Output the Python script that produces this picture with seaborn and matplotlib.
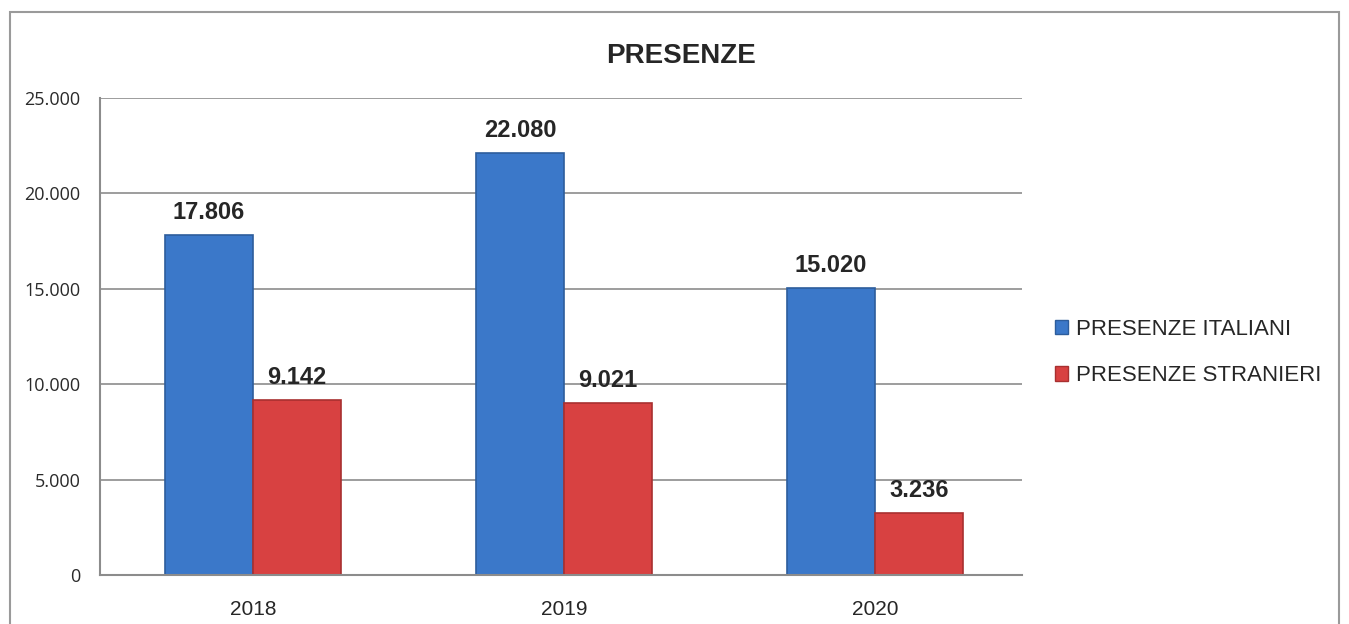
import matplotlib
matplotlib.use('Agg')
import matplotlib.pyplot as plt
import seaborn as sns
import pandas as pd
from matplotlib.patches import Rectangle

# dati
anni = ['2018', '2019', '2020']
italiani = [17806, 22080, 15020]
stranieri = [9142, 9021, 3236]
serie = ['PRESENZE ITALIANI', 'PRESENZE STRANIERI']
y_ticks = [0, 5000, 10000, 15000, 20000, 25000]

df = pd.DataFrame({
    'anno': anni * 2,
    'valore': italiani + stranieri,
    'serie': [serie[0]] * 3 + [serie[1]] * 3,
})

sns.set_theme(style='white')
plt.rcParams['font.family'] = ['Liberation Sans', 'DejaVu Sans']

fmt = lambda v: f'{int(v):,}'.replace(',', '.')

fig = plt.figure(figsize=(13.49, 6.24), dpi=100)
ax = fig.add_axes([0.0741, 0.0785, 0.6835, 0.765])

colori = {serie[0]: '#3b78c9', serie[1]: '#d84141'}
bordi = {serie[0]: '#2d5d9c', serie[1]: '#a83030'}
sns.barplot(data=df, x='anno', y='valore', hue='serie', palette=colori,
            width=0.566, ax=ax, legend=False, saturation=1)

for cont, s in zip(ax.containers, serie):
    for bar in cont:
        bar.set_edgecolor(bordi[s])
        bar.set_linewidth(1.2)
    ax.bar_label(cont, labels=[fmt(b.get_height()) for b in cont], padding=8,
                 fontsize=17, fontweight='bold')

ax.set_xlim(-0.492, 2.473)
ax.set_ylim(0, 25000)
ax.set_yticks(y_ticks)
ax.set_yticklabels([fmt(v) for v in y_ticks], fontsize=13,
                   family=['Open Sans', 'DejaVu Sans'], color='#2a2a2a')
ax.set_xticks(range(len(anni)))
ax.set_xticklabels(anni, fontsize=15)
ax.tick_params(axis='y', pad=14, length=0)
ax.tick_params(axis='x', pad=18, length=0)
ax.set_xlabel('')
ax.set_ylabel('')
ax.yaxis.grid(True, color='#8c8c8c', linewidth=1.2)
ax.set_axisbelow(True)
for sp in ['top', 'right']:
    ax.spines[sp].set_visible(False)
for sp in ['left', 'bottom']:
    ax.spines[sp].set_color('#8c8c8c')
    ax.spines[sp].set_linewidth(1.5)

# legenda
handles = [Rectangle((0, 0), 1, 1, facecolor=colori[s], edgecolor=bordi[s]) for s in serie]
fig.legend(handles, serie, loc='center left', bbox_to_anchor=(0.767, 0.435),
           frameon=False, fontsize=16, handlelength=0.6, handleheight=0.6,
           handletextpad=0.35, labelspacing=1.15)

fig.text(0.505, 0.91, 'PRESENZE', ha='center', va='center', fontsize=20,
         fontweight='bold')

# cornice
fig.patches.append(Rectangle((0.0075, -0.01), 0.985, 0.99, transform=fig.transFigure,
                             fill=False, edgecolor='#9a9a9a', linewidth=1.5))

fig.savefig('out.png', dpi=100)
